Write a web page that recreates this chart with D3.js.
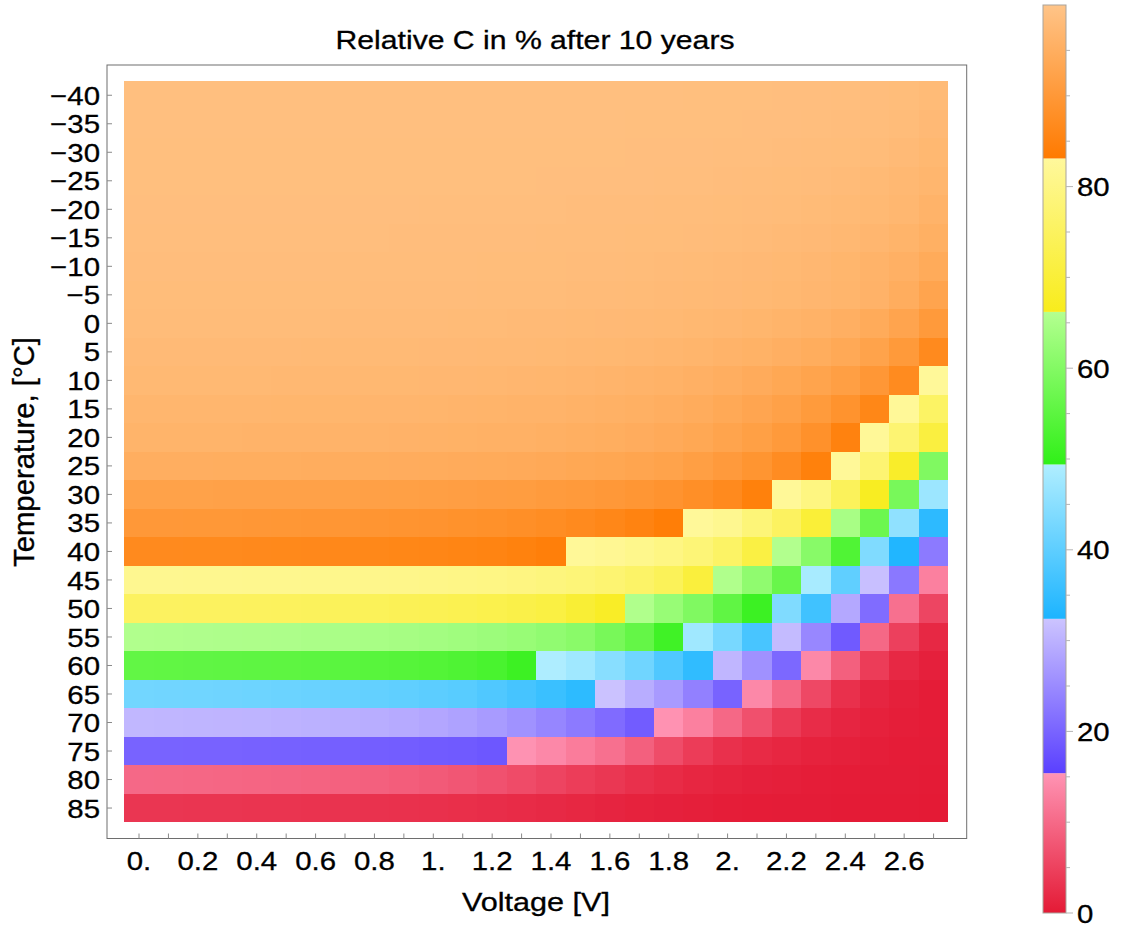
<!DOCTYPE html>
<html>
<head>
<meta charset="utf-8">
<script src="https://cdn.jsdelivr.net/npm/d3@7"></script>
<style>
  body { margin: 0; background: #fff; }
  text { stroke: #000; stroke-width: 0.3px; }
</style>
</head>
<body>
<script>
// x: voltage [V], y: temperature [C]
var voltages = [0, 0.1, 0.2, 0.3, 0.4, 0.5, 0.6, 0.7, 0.8, 0.9, 1.0, 1.1, 1.2, 1.3,
  1.4, 1.5, 1.6, 1.7, 1.8, 1.9, 2.0, 2.1, 2.2, 2.3, 2.4, 2.5, 2.6, 2.7]
var xTickLabels = ["0.", "", "0.2", "", "0.4", "", "0.6", "", "0.8", "", "1.", "", "1.2", "",
  "1.4", "", "1.6", "", "1.8", "", "2.", "", "2.2", "", "2.4", "", "2.6", ""]
var temperatures = [-40, -35, -30, -25, -20, -15, -10, -5, 0, 5, 10, 15, 20, 25,
  30, 35, 40, 45, 50, 55, 60, 65, 70, 75, 80, 85]
var colorbarLabels = [0, 20, 40, 60, 80]

// relative capacity in %, one row per temperature, one value per voltage
var relC = [
  [98.9,98.9,98.9,98.9,98.9,98.9,98.9,98.9,98.9,98.9,98.9,98.9,98.9,98.9,98.9,98.9,98.9,98.9,98.9,98.8,98.8,98.8,98.7,98.7,98.6,98.5,98.3,97.9], // -40
  [98.9,98.9,98.9,98.9,98.9,98.9,98.9,98.9,98.9,98.9,98.9,98.9,98.9,98.9,98.9,98.9,98.9,98.8,98.8,98.8,98.8,98.7,98.7,98.6,98.5,98.4,98.1,97.6], // -35
  [98.8,98.8,98.8,98.8,98.8,98.8,98.8,98.8,98.8,98.8,98.8,98.8,98.8,98.8,98.8,98.8,98.8,98.7,98.7,98.7,98.6,98.6,98.5,98.4,98.3,98.1,97.8,97.2], // -30
  [98.8,98.8,98.8,98.8,98.8,98.8,98.8,98.8,98.8,98.8,98.8,98.8,98.8,98.8,98.7,98.7,98.7,98.7,98.6,98.6,98.5,98.4,98.3,98.2,98.0,97.7,97.3,96.8], // -25
  [98.7,98.7,98.7,98.7,98.7,98.7,98.7,98.7,98.7,98.7,98.6,98.6,98.6,98.6,98.6,98.5,98.5,98.5,98.4,98.4,98.3,98.2,98.1,97.9,97.7,97.4,97.0,96.2], // -20
  [98.6,98.6,98.6,98.6,98.6,98.6,98.6,98.6,98.6,98.5,98.5,98.5,98.5,98.5,98.4,98.4,98.4,98.3,98.3,98.2,98.1,98.0,97.8,97.6,97.3,96.9,96.3,95.4], // -15
  [98.5,98.5,98.5,98.5,98.5,98.5,98.5,98.4,98.4,98.4,98.4,98.4,98.3,98.3,98.3,98.2,98.2,98.1,98.0,97.9,97.8,97.6,97.4,97.1,96.7,96.2,95.5,94.3], // -10
  [98.3,98.3,98.3,98.3,98.3,98.3,98.3,98.3,98.2,98.2,98.2,98.2,98.1,98.1,98.1,98.0,98.0,97.9,97.8,97.7,97.6,97.4,97.2,96.9,96.5,96.0,94.8,92.8], // -5
  [98.1,98.1,98.1,98.1,98.1,98.1,98.1,98.0,98.0,98.0,98.0,97.9,97.9,97.8,97.8,97.7,97.6,97.5,97.4,97.2,97.0,96.7,96.3,95.9,95.3,94.3,92.8,90.4], // 0
  [97.8,97.8,97.8,97.8,97.8,97.8,97.7,97.7,97.7,97.7,97.6,97.6,97.5,97.5,97.4,97.3,97.2,97.0,96.8,96.5,96.2,95.8,95.3,94.7,93.8,92.4,90.3,86.8], // 5
  [97.4,97.4,97.4,97.4,97.4,97.3,97.3,97.3,97.2,97.2,97.1,97.1,97.0,96.9,96.8,96.6,96.4,96.2,95.9,95.5,95.0,94.4,93.6,92.7,91.5,89.8,86.9,82.7], // 10
  [96.8,96.8,96.8,96.8,96.8,96.7,96.7,96.7,96.6,96.6,96.5,96.4,96.3,96.2,96.1,95.9,95.7,95.4,95.0,94.5,93.8,93.0,92.0,90.6,88.8,86.0,82.6,75.7], // 15
  [96.3,96.3,96.3,96.3,96.2,96.2,96.2,96.1,96.1,96.0,95.9,95.8,95.7,95.6,95.4,95.2,94.9,94.6,94.1,93.5,92.7,91.7,90.4,88.4,85.0,82.6,77.5,71.0], // 20
  [95.0,95.0,95.0,94.9,94.9,94.9,94.8,94.8,94.7,94.6,94.5,94.4,94.3,94.1,93.9,93.6,93.3,92.9,92.4,91.6,90.5,89.2,87.3,84.6,82.6,77.5,68.0,59.6], // 25
  [92.2,92.2,92.2,92.1,92.1,92.0,92.0,91.9,91.8,91.7,91.6,91.4,91.2,91.0,90.7,90.4,90.0,89.5,88.9,88.0,86.8,84.6,82.6,79.6,74.5,67.0,58.6,47.1], // 30
  [90.0,90.0,89.9,89.9,89.8,89.7,89.6,89.5,89.3,89.1,88.9,88.6,88.3,87.9,87.4,86.8,86.1,85.2,84.0,82.7,81.5,78.3,75.2,69.9,64.7,57.0,45.7,34.3], // 35
  [86.8,86.8,86.7,86.7,86.6,86.5,86.4,86.3,86.2,86.0,85.8,85.6,85.3,84.9,84.3,82.6,81.9,81.0,79.8,78.2,75.8,71.5,65.9,60.6,53.5,43.9,33.0,22.9], // 40
  [81.5,81.5,81.4,81.4,81.3,81.2,81.1,81.0,80.9,80.7,80.5,80.2,79.9,79.5,79.0,78.3,77.4,76.1,74.3,70.5,65.7,61.6,56.5,48.5,40.2,31.8,22.6,12.9], // 45
  [75.2,75.2,75.1,75.0,74.9,74.8,74.6,74.4,74.2,73.9,73.6,73.2,72.7,72.1,71.3,69.5,67.6,65.7,62.6,59.6,55.5,50.9,43.9,36.5,28.8,21.1,10.9,5.4], // 50
  [65.8,65.7,65.6,65.5,65.4,65.3,65.1,64.9,64.7,64.4,64.1,63.7,63.2,62.6,61.8,60.8,58.5,56.0,51.4,47.6,43.0,37.5,31.2,24.6,18.7,9.8,4.8,1.8], // 55
  [55.7,55.6,55.5,55.4,55.3,55.2,55.0,54.8,54.5,54.2,53.8,53.3,52.6,51.0,49.2,47.6,44.8,42.1,38.4,34.7,30.6,25.8,20.5,13.9,8.8,4.3,1.8,0.8], // 60
  [42.3,42.2,42.1,41.9,41.7,41.5,41.2,40.9,40.6,40.2,39.8,39.3,38.4,37.2,35.8,34.4,32.2,29.4,27.0,23.7,19.9,13.9,9.8,5.8,2.8,1.4,0.7,0.3], // 65
  [30.7,30.6,30.5,30.4,30.3,30.1,29.9,29.7,29.4,29.1,28.6,28.0,27.1,25.9,24.4,22.9,21.0,19.0,15.2,12.9,9.8,6.8,4.0,2.3,1.4,0.9,0.5,0.3], // 70
  [19.9,19.9,19.8,19.8,19.7,19.6,19.5,19.4,19.3,19.1,18.9,18.7,18.3,15.1,13.9,12.4,10.9,8.8,6.3,4.3,2.8,2.0,1.5,1.0,0.7,0.5,0.3,0.2], // 75
  [9.9,9.8,9.7,9.6,9.5,9.4,9.2,9.0,8.8,8.5,8.1,7.6,7.0,6.2,5.3,4.4,3.6,2.8,2.1,1.5,1.1,0.8,0.6,0.4,0.3,0.2,0.2,0.1], // 80
  [3.5,3.5,3.4,3.4,3.3,3.3,3.2,3.1,3.0,2.9,2.8,2.6,2.4,2.2,1.9,1.6,1.3,1.0,0.8,0.6,0.4,0.3,0.2,0.2,0.1,0.1,0.1,0.0]  // 85
]

// banded colour scheme (low end / high end of every band)
var bandBreaks = [0, 15.4, 32.4, 49.4, 66.2, 83.1, 100]
var bandLow = ["#e41a35", "#5a40ff", "#1cb4ff", "#30f018", "#f8ec1c", "#ff7a00"]
var bandHigh = ["#ff94b4", "#ccc4ff", "#b0eeff", "#b4ff90", "#fff89c", "#ffc488"]

function colorOf(v) {
  var b = d3.bisectRight(bandBreaks, v) - 1
  b = Math.max(0, Math.min(bandLow.length - 1, b))
  var t = (v - bandBreaks[b]) / (bandBreaks[b + 1] - bandBreaks[b])
  return d3.interpolateRgb(bandLow[b], bandHigh[b])(Math.max(0, Math.min(1, t)))
}

var width = 1127, height = 928
var SX = 1.11   // the original picture is a bit stretched sideways
var FS = 26.5
var FONT = '"Liberation Sans", Arial, sans-serif'

var svg = d3.select("body").append("svg")
  .attr("width", width)
  .attr("height", height)
  .style("font-family", FONT)

var x = d3.scaleBand().domain(voltages).range([124.3, 948.3]).padding(0)
var y = d3.scaleBand().domain(temperatures).range([81, 822.3]).padding(0)

// heat map cells
var cells = []
relC.forEach(function (row, i) {
  row.forEach(function (v, j) {
    cells.push({ t: temperatures[i], u: voltages[j], v: v })
  })
})

svg.append("g").selectAll("rect")
  .data(cells)
  .enter().append("rect")
  .attr("x", d => x(d.u))
  .attr("y", d => y(d.t))
  .attr("width", d => x.bandwidth() + (d.u === voltages[voltages.length - 1] ? 0 : 0.6))
  .attr("height", d => y.bandwidth() + (d.t === temperatures[temperatures.length - 1] ? 0 : 0.6))
  .attr("fill", d => colorOf(d.v))
  .attr("shape-rendering", "crispEdges")

// frame
svg.append("rect")
  .attr("x", 107).attr("y", 65)
  .attr("width", 859.7).attr("height", 773.5)
  .attr("fill", "none")
  .attr("stroke", "#6e6e6e")

// bottom axis
var gx = svg.append("g")
  .attr("transform", "translate(0,838.5)")
  .call(d3.axisBottom(x).tickSize(-5).tickFormat((d, i) => xTickLabels[i]))
gx.select(".domain").remove()
gx.attr("font-size", FS).attr("font-family", FONT)
gx.selectAll(".tick line").attr("stroke", "#8a8a8a")
gx.selectAll(".tick text")
  .attr("y", 31.5)
  .attr("dy", null)
  .attr("fill", "#000")
  .attr("transform", "scale(" + SX + ",1)")

// left axis
var gy = svg.append("g")
  .attr("transform", "translate(107,0)")
  .call(d3.axisLeft(y).tickSize(-5).tickFormat(d => d < 0 ? "\u2212" + (-d) : String(d)))
gy.select(".domain").remove()
gy.attr("font-size", FS).attr("font-family", FONT)
gy.selectAll(".tick line").attr("stroke", "#8a8a8a")
gy.selectAll(".tick text")
  .attr("x", -7 / SX)
  .attr("dy", "0.36em")
  .attr("fill", "#000")
  .attr("transform", "scale(" + SX + ",1)")

// titles
svg.append("text")
  .attr("transform", "translate(535,49.3) scale(" + SX + ",1)")
  .attr("text-anchor", "middle")
  .attr("font-size", FS)
  .attr("textLength", 399 / SX)
  .attr("lengthAdjust", "spacingAndGlyphs")
  .text("Relative C in % after 10 years")

svg.append("text")
  .attr("transform", "translate(536,911) scale(" + SX + ",1)")
  .attr("text-anchor", "middle")
  .attr("font-size", FS)
  .attr("textLength", 148 / SX)
  .attr("lengthAdjust", "spacingAndGlyphs")
  .text("Voltage [V]")

svg.append("text")
  .attr("transform", "translate(33.5,452) scale(" + SX + ",1) rotate(-90)")
  .attr("text-anchor", "middle")
  .attr("font-size", FS)
  .attr("textLength", 230)
  .attr("lengthAdjust", "spacingAndGlyphs")
  .text("Temperature, [\u00B0C]")

// colour bar
var cb = d3.scaleLinear().domain([0, 100]).range([913, 5])
var cbX = 1043, cbW = 23

var defs = svg.append("defs")
bandLow.forEach(function (c, b) {
  var g = defs.append("linearGradient")
    .attr("id", "band" + b)
    .attr("x1", 0).attr("y1", 1).attr("x2", 0).attr("y2", 0)
  g.append("stop").attr("offset", 0).attr("stop-color", bandLow[b])
  g.append("stop").attr("offset", 1).attr("stop-color", bandHigh[b])
})

svg.append("g").selectAll("rect")
  .data(d3.range(bandLow.length))
  .enter().append("rect")
  .attr("x", cbX)
  .attr("y", b => cb(bandBreaks[b + 1]))
  .attr("width", cbW)
  .attr("height", b => cb(bandBreaks[b]) - cb(bandBreaks[b + 1]))
  .attr("fill", b => "url(#band" + b + ")")

svg.append("rect")
  .attr("x", cbX).attr("y", cb(100))
  .attr("width", cbW).attr("height", cb(0) - cb(100))
  .attr("fill", "none")
  .attr("stroke", "#a9a39c")

svg.append("g").selectAll("line")
  .data(d3.range(0, 100, 5))
  .enter().append("line")
  .attr("x1", cbX + cbW)
  .attr("x2", d => cbX + cbW + (d % 20 === 0 ? 7 : 4))
  .attr("y1", d => cb(d)).attr("y2", d => cb(d))
  .attr("stroke", "#b5b5b5")

svg.append("g").selectAll("text")
  .data(colorbarLabels)
  .enter().append("text")
  .attr("transform", d => "translate(1077," + cb(d) + ") scale(" + SX + ",1)")
  .attr("dy", "0.36em")
  .attr("font-size", FS)
  .text(d => d)
</script>
</body>
</html>
